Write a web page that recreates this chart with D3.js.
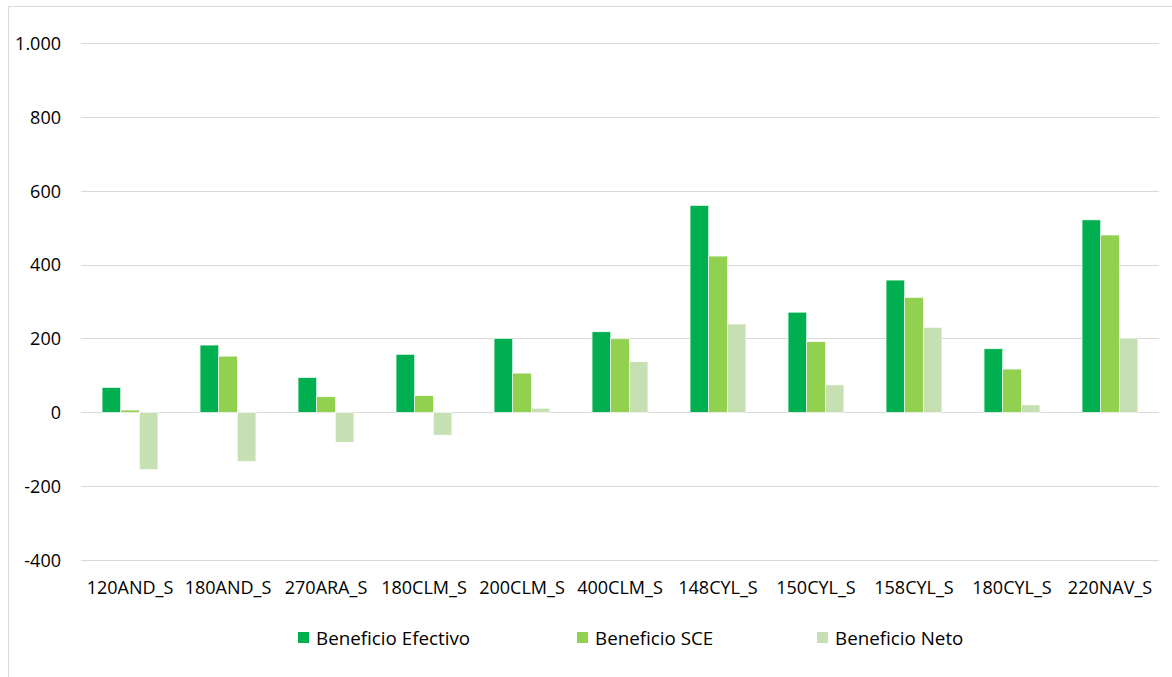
<!DOCTYPE html>
<html><head><meta charset="utf-8">
<script src="https://cdn.jsdelivr.net/npm/d3@7"></script>
<style>body{margin:0;background:#fff;} svg{display:block;font-family:"Open Sans",sans-serif;}</style>
</head><body>
<svg id="c" width="1172" height="677"></svg>
<script>
const categories = ["120AND_S","180AND_S","270ARA_S","180CLM_S","200CLM_S","400CLM_S","148CYL_S","150CYL_S","158CYL_S","180CYL_S","220NAV_S"];
const seriesNames = ["Beneficio Efectivo","Beneficio SCE","Beneficio Neto"];
const beneficioEfectivo = [67,182,94,157,200,218,560,271,358,172,521];
const beneficioSCE = [6,152,42,45,106,199,423,191,311,117,480];
const beneficioNeto = [-155,-133,-81,-62,11,137,239,74,230,20,201];
const yTicks = [-400,-200,0,200,400,600,800,1000];
const colors = ["#00B050","#92D050","#C6E0B4"];

(function(){
const svg = d3.select("#c");
const mLeft = 81, mRight = 1159, mTop = 43, mBottom = 560;
const FONT = '"Open Sans",sans-serif', FS = 18, LFS = 18.8;

svg.append("path").attr("d","M8.5,677 L8.5,6.5 L1172,6.5").attr("fill","none").attr("stroke","#d9d9d9").attr("stroke-width",1);

const y = d3.scaleLinear().domain([-400,1000]).range([mBottom,mTop]);
const x0 = d3.scaleBand().domain(categories).range([mLeft,mRight]).paddingInner(0.43).paddingOuter(0.215);
const x1 = d3.scaleBand().domain(seriesNames).range([0,x0.bandwidth()]);

svg.append("g").selectAll("line").data(yTicks).join("line")
  .attr("x1",mLeft).attr("x2",mRight).attr("y1",d=>Math.round(y(d))+0.5).attr("y2",d=>Math.round(y(d))+0.5)
  .attr("stroke","#d9d9d9").attr("stroke-width",1.2);

const fmt = d=> d3.format(",")(d).replace(/,/g,".").replace("\u2212","-");
const yAxis = d3.axisLeft(y).tickValues(yTicks).tickFormat(fmt).tickSize(0).tickPadding(0);
const ga = svg.append("g").attr("transform","translate(61,0)").call(yAxis);
ga.select(".domain").remove();
ga.selectAll("text").attr("font-size",FS).attr("fill","#000").attr("font-family",FONT).attr("dy","0.35em");

const data = categories.map((c,i)=>({cat:c, vals:[beneficioEfectivo[i],beneficioSCE[i],beneficioNeto[i]]}));
const g = svg.append("g");
g.selectAll("g").data(data).join("g").attr("transform",d=>`translate(${x0(d.cat)},0)`)
  .selectAll("rect").data(d=>d.vals.map((v,j)=>({v, s:seriesNames[j], j})))
  .join("rect")
  .attr("x",d=>x1(d.s)).attr("width",x1.bandwidth())
  .attr("y",d=>y(Math.max(0,d.v))).attr("height",d=>Math.abs(y(d.v)-y(0)))
  .attr("fill",d=>colors[d.j]).attr("stroke","#fff").attr("stroke-width",0.6);

const xAxis = d3.axisBottom(x0).tickSize(0).tickPadding(0);
const gx = svg.append("g").attr("transform",`translate(0,${mBottom+21})`).call(xAxis);
gx.select(".domain").remove();
gx.selectAll("text").attr("font-size",FS).attr("fill","#000").attr("font-family",FONT);

const legX = [298, 577, 817];
const leg = svg.append("g");
seriesNames.forEach((n,i)=>{
  leg.append("rect").attr("x",legX[i]).attr("y",632).attr("width",11).attr("height",11).attr("fill",colors[i]);
  leg.append("text").attr("x",legX[i]+18).attr("y",644.5).attr("font-size",LFS).attr("font-family",FONT).attr("fill","#000").text(n);
});
})();
</script>
</body></html>
